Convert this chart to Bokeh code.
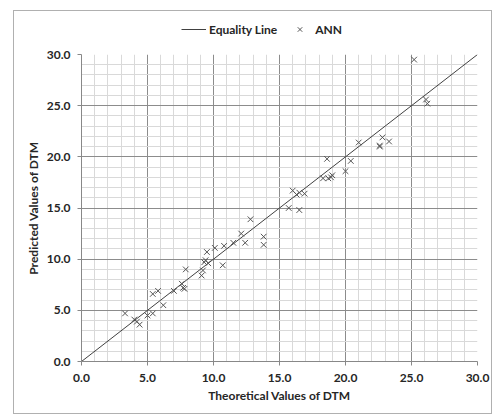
from bokeh.plotting import figure
from bokeh.embed import file_html
from bokeh.resources import INLINE
from bokeh.layouts import column
from bokeh.models import Legend, LegendItem, FixedTicker, NumeralTickFormatter, Range1d

# Data
theoretical = [3.3, 4.0, 4.2, 4.4, 5.0, 5.4, 5.4, 5.8, 6.2, 7.0, 7.6, 7.7, 7.8, 7.9,
               9.1, 9.2, 9.3, 9.4, 9.5, 9.6, 10.1, 10.7, 10.8, 11.5, 12.1, 12.4, 12.8,
               13.8, 13.8, 15.7, 16.0, 16.3, 16.5, 16.5, 16.9, 18.3, 18.6, 18.7, 18.9,
               19.0, 20.0, 20.4, 21.0, 22.6, 22.6, 22.8, 23.3, 25.2, 26.1, 26.2]
predicted = [4.7, 4.1, 3.9, 3.6, 4.5, 4.7, 6.6, 6.9, 5.5, 6.9, 7.6, 7.2, 7.1, 9.0,
             8.4, 8.9, 9.7, 9.9, 10.7, 9.6, 11.1, 9.4, 11.3, 11.6, 12.5, 11.6, 13.9,
             12.2, 11.4, 15.0, 16.7, 16.3, 16.5, 14.8, 16.4, 17.9, 19.8, 17.9, 18.0,
             18.2, 18.6, 19.6, 21.4, 21.1, 21.0, 21.9, 21.5, 29.5, 25.6, 25.2]
equality = [0.0, 30.0]
major_ticks = [0, 5, 10, 15, 20, 25, 30]
minor_ticks = [i for i in range(0, 31) if i % 5 != 0]
series_names = ["Equality Line", "ANN"]

FONT = "Lato"
LINE_COLOR = "#404040"
MARK_COLOR = "#555555"

# Legend strip on top: its renderers' data lies wholly outside its (tiny)
# visible range, so only the legend entries themselves show.
lg = figure(width=477, height=30, output_backend="svg", toolbar_location=None,
            x_range=Range1d(-20, -19), y_range=Range1d(-20, -19),
            x_axis_location=None, y_axis_location=None,
            min_border_left=0, min_border_right=0, min_border_top=0, min_border_bottom=0)
lg.grid.visible = False
lg.outline_line_color = None
lg_line = lg.line(equality, equality, line_color=LINE_COLOR, line_width=1)
lg_pts = lg.scatter(theoretical, predicted, marker="x", size=8, line_color=MARK_COLOR, line_width=1)
legend = Legend(items=[LegendItem(label=series_names[0], renderers=[lg_line]),
                       LegendItem(label=series_names[1], renderers=[lg_pts])],
                orientation="horizontal", location=(100, 4),
                border_line_color=None, background_fill_alpha=0,
                label_text_font=FONT, label_text_font_style="bold",
                label_text_font_size="12px", label_text_color="#262626",
                glyph_width=25, glyph_height=16, label_height=16,
                spacing=10, padding=0, margin=0, label_standoff=3)
lg.add_layout(legend, "center")

# Main chart
p = figure(width=477, height=372, output_backend="svg", toolbar_location=None,
           x_range=Range1d(0, 30), y_range=Range1d(0, 30),
           min_border_left=67, min_border_right=14, min_border_top=13, min_border_bottom=52)
p.outline_line_color = None
p.background_fill_color = "white"

for ax, lab in ((p.xaxis, "Theoretical Values of DTM"), (p.yaxis, "Predicted Values of DTM")):
    ax.ticker = FixedTicker(ticks=major_ticks)
    ax.formatter = NumeralTickFormatter(format="0.0")
    ax.axis_label = lab
    ax.axis_label_text_font = FONT
    ax.axis_label_text_font_style = "bold"
    ax.axis_label_text_font_size = "12px"
    ax.axis_label_text_color = "#262626"
    ax.major_label_text_font = FONT
    ax.major_label_text_font_style = "bold"
    ax.major_label_text_font_size = "12px"
    ax.major_label_text_color = "#262626"
    ax.axis_line_color = "#888888"
    ax.major_tick_line_color = "#888888"
    ax.major_tick_out = 4
    ax.major_tick_in = 0
    ax.minor_tick_line_color = None

p.xaxis.axis_label_standoff = 3
p.yaxis.axis_label_standoff = 3
p.xaxis.major_label_standoff = 8
p.yaxis.major_label_standoff = 7

for g in (p.xgrid, p.ygrid):
    g.ticker = FixedTicker(ticks=major_ticks, minor_ticks=minor_ticks)
    g.grid_line_color = "#8c8c8c"
    g.grid_line_width = 1
    g.minor_grid_line_color = "#d9d9d9"
    g.minor_grid_line_width = 1
    g.level = "underlay"

p.line(equality, equality, line_color=LINE_COLOR, line_width=1)
p.scatter(theoretical, predicted, marker="x", size=8, line_color=MARK_COLOR, line_width=1)

layout = column(lg, p, spacing=0,
                styles={"border": "1px solid #b0b0b0", "margin-left": "13px", "margin-top": "10px"})

open("out.html", "w").write(file_html(layout, INLINE))
